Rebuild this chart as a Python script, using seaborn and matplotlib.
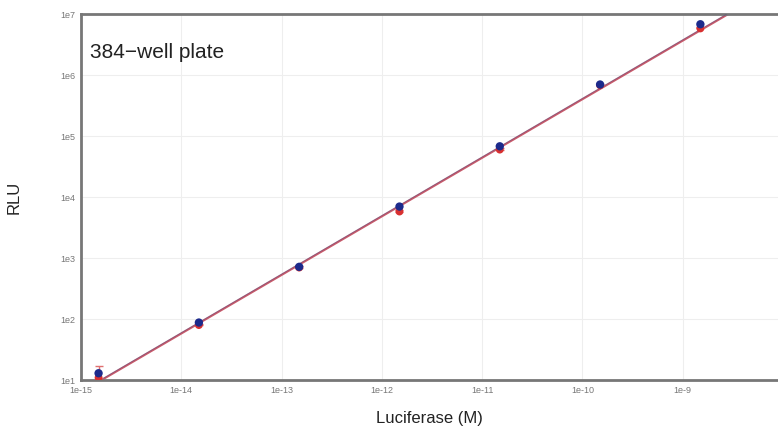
import numpy as np
import pandas as pd
import matplotlib
matplotlib.use("Agg")
import matplotlib.pyplot as plt
import seaborn as sns

# data
conc = [1.5e-15, 1.5e-14, 1.5e-13, 1.5e-12, 1.5e-11, 1.5e-10, 1.5e-9]
rlu_blue = [13, 88, 720, 7000, 68000, 700000, 6.8e6]
rlu_red = [11, 80, 700, 5800, 60000, 680000, 5.8e6]
red_err = [6, 4, 30, 300, 3000, 20000, 300000]
fit_x_red = [1.6e-15, 2.85e-9]
fit_y_red = [10, 1e7]
fit_x_blue = [1.55e-15, 2.75e-9]
fit_y_blue = [10, 1e7]

xticks = [1e-15, 1e-14, 1e-13, 1e-12, 1e-11, 1e-10, 1e-9]
xtick_labels = ['1e-15', '1e-14', '1e-13', '1e-12', '1e-11', '1e-10', '1e-9']
yticks = [1e1, 1e2, 1e3, 1e4, 1e5, 1e6, 1e7]
ytick_labels = ['1e1', '1e2', '1e3', '1e4', '1e5', '1e6', '1e7']

sns.set_style("white")
plt.rcParams['font.family'] = ['Liberation Sans', 'DejaVu Sans']

fig = plt.figure(figsize=(7.78, 4.38), dpi=100)
ax = fig.add_axes([0.104, 0.132, 0.896, 0.836])

df_pts = pd.DataFrame({'conc': conc, 'blue': rlu_blue, 'red': rlu_red})
fit_r = pd.DataFrame({'x': fit_x_red, 'y': fit_y_red})
fit_b = pd.DataFrame({'x': fit_x_blue, 'y': fit_y_blue})

# fit lines
sns.lineplot(data=fit_r, x='x', y='y', ax=ax, color='#c85a6a', lw=1.5, zorder=2)
sns.lineplot(data=fit_b, x='x', y='y', ax=ax, color='#5a4a7a', lw=0.7, alpha=0.5, zorder=3)

# red error bars + points, blue points on top
ax.errorbar(conc, rlu_red, yerr=[np.zeros(len(red_err)), red_err], fmt='none',
            ecolor='#e07070', elinewidth=1, capsize=3, zorder=3)
sns.scatterplot(data=df_pts, x='conc', y='red', ax=ax, color='#d83030', s=32,
                edgecolor='none', zorder=4)
sns.scatterplot(data=df_pts, x='conc', y='blue', ax=ax, color='#1c2a8c', s=36,
                edgecolor='none', zorder=5)

ax.set_xscale('log')
ax.set_yscale('log')
ax.set_xlim(1e-15, 10 ** -8.05)
ax.set_ylim(10, 1e7)
ax.minorticks_off()
ax.set_xticks(xticks, xtick_labels)
ax.set_yticks(yticks, ytick_labels)
ax.tick_params(axis='both', labelsize=6.5, labelcolor='#777777', length=0, pad=4)

ax.grid(True, color='#eeeeee', lw=0.8)
ax.set_axisbelow(True)

for side in ['left', 'top', 'bottom']:
    ax.spines[side].set_color('#777777')
    ax.spines[side].set_linewidth(2)
ax.spines['right'].set_visible(False)

ax.set_xlabel('Luciferase (M)', fontsize=12, color='#222222', labelpad=12)
ax.set_ylabel('RLU', fontsize=12, color='#222222', labelpad=28)
ax.text(0.013, 0.895, '384\u2212well plate', transform=ax.transAxes, fontsize=15,
        color='#222222', va='center')

fig.savefig('out.png', dpi=100)
